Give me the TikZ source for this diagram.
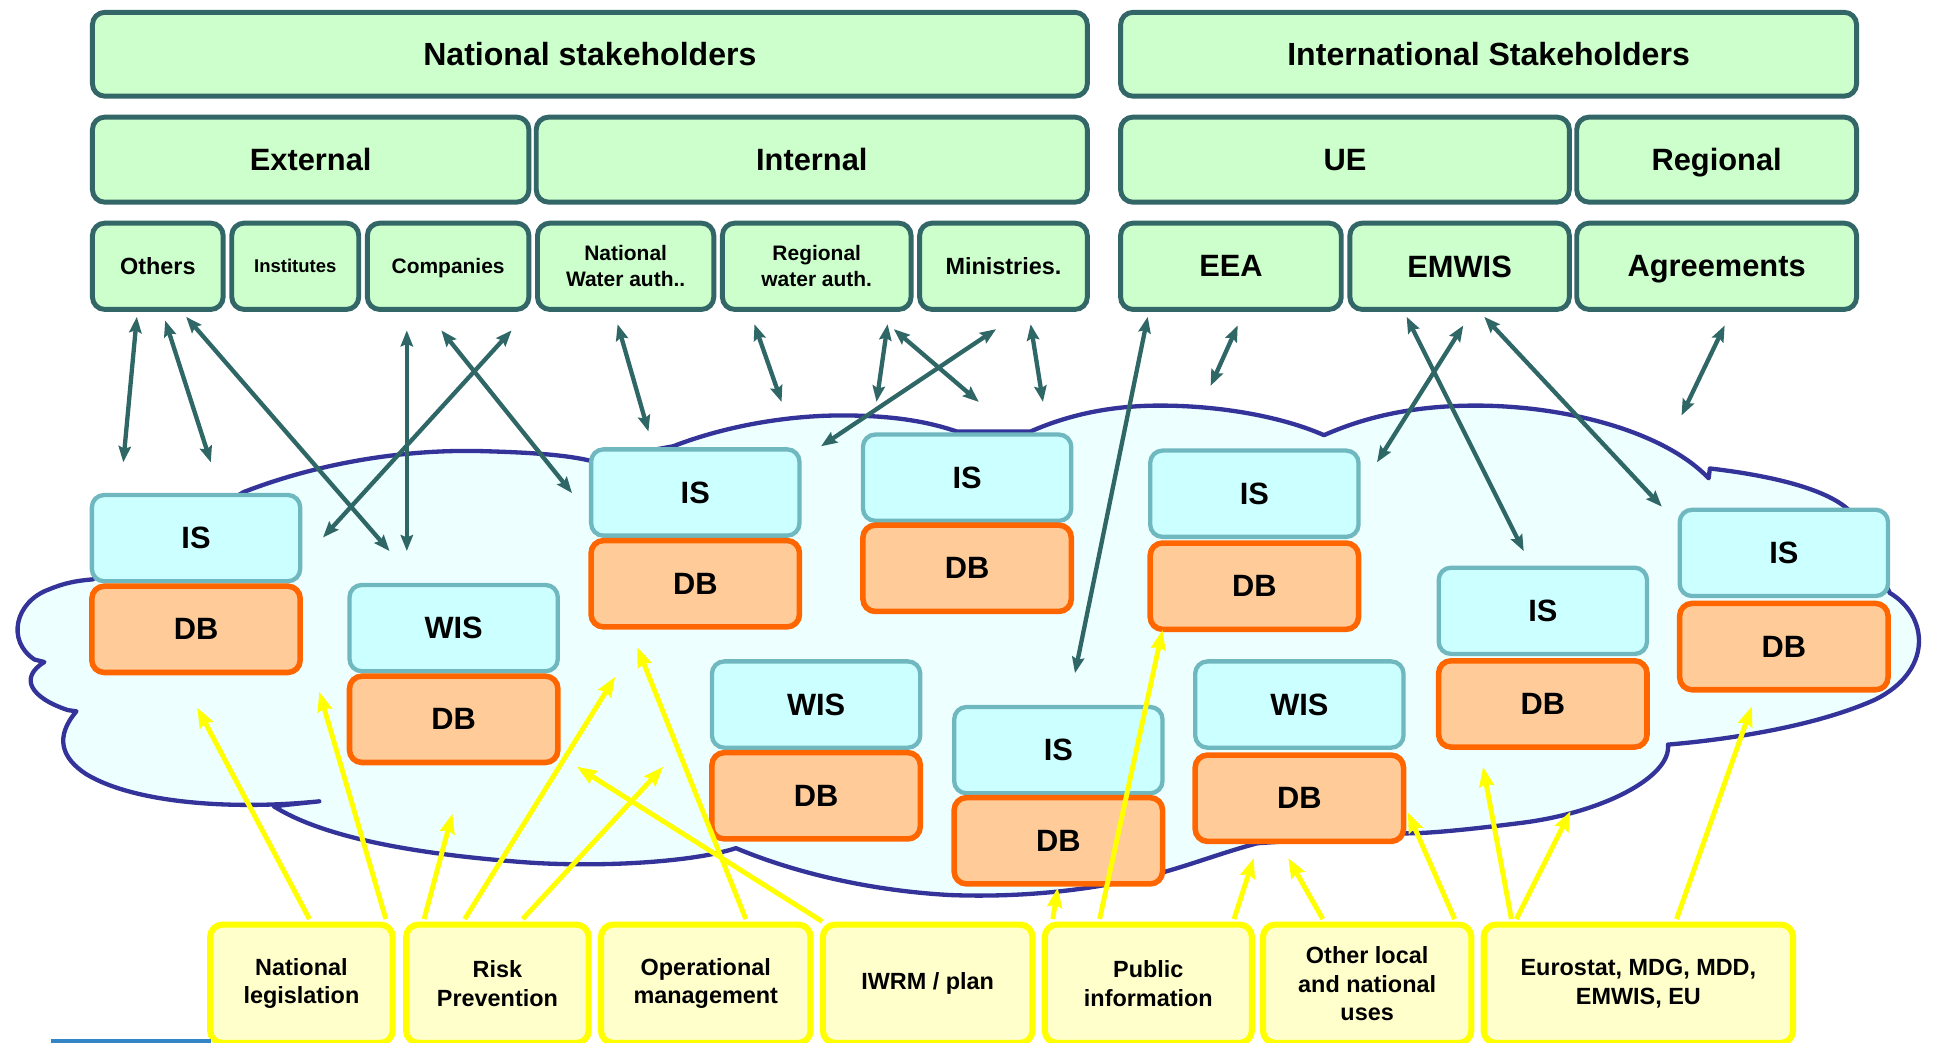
\documentclass[tikz,border=0pt]{standalone}
\usepackage{fontspec}
\setmainfont{Liberation Sans}
\usetikzlibrary{arrows.meta}

\definecolor{stakefill}{HTML}{CCFFCC}
\definecolor{stakeline}{HTML}{336666}
\definecolor{infofill}{HTML}{CCFFFF}
\definecolor{infoline}{HTML}{70B8C0}
\definecolor{dbfill}{HTML}{FFCC99}
\definecolor{dbline}{HTML}{FF6600}
\definecolor{usefill}{HTML}{FFFFCC}
\definecolor{useline}{HTML}{FFFF00}
\definecolor{cloudfill}{HTML}{EEFFFF}
\definecolor{cloudline}{HTML}{333399}
\definecolor{linkcol}{HTML}{2F6666}
\definecolor{barblue}{HTML}{3385C6}

\newcommand{\boxfont}[2]{\fontsize{#1}{#2}\selectfont\bfseries}

\begin{document}
\begin{tikzpicture}[x=1pt, y=-1pt,
        box/.style={rounded corners=10pt, inner sep=0pt, align=center},
        stake/.style={box, draw=stakeline, fill=stakefill, line width=4pt, text depth=0pt, font=\boxfont{25}{30}},
        info/.style={box, draw=infoline, fill=infofill, line width=3.5pt, minimum width=169, minimum height=70, font=\boxfont{25}{30}},
        db/.style={box, draw=dbline, fill=dbfill, line width=4.5pt, minimum width=169, minimum height=70, font=\boxfont{25}{30}},
        use/.style={box, draw=useline, fill=usefill, line width=5pt, minimum height=96, font=\boxfont{19}{23}},
        cloud/.style={fill=cloudfill, draw=cloudline, line width=3.5pt, line join=round},
        link/.style={draw=linkcol, line width=3.5pt, <->, >={Stealth[length=13pt,width=10pt,inset=2pt]}},
        feed/.style={draw=useline, line width=4pt, ->, >={Stealth[length=16pt,width=12pt,inset=2pt]}}]
        \useasboundingbox (0,0) rectangle (1568,846);
        \clip (0,0) rectangle (1568,846);

        % Cloud
        \path[cloud] (75,470) -- (198,399)
            .. controls (260,375) and (330,364) .. (393,366)
            .. controls (430,367) and (460,369) .. (480,374)
            -- (546,362)
            .. controls (590,345) and (640,337) .. (683,337)
            .. controls (720,337) and (750,341) .. (776,350)
            -- (836,350)
            .. controls (870,335) and (905,329) .. (941,329)
            .. controls (990,329) and (1040,338) .. (1074,353)
            .. controls (1110,337) and (1150,329) .. (1197,329)
            .. controls (1270,329) and (1350,350) .. (1386,388)
            -- (1387,380)
            .. controls (1430,385) and (1480,395) .. (1500,414)
            -- (1533,481)
            .. controls (1565,500) and (1568,545) .. (1520,568)
            .. controls (1470,590) and (1400,600) .. (1353,604)
            .. controls (1356,630) and (1300,660) .. (1230,668)
            .. controls (1190,673) and (1160,676) .. (1140,676)
            -- (1020,684)
            .. controls (990,692) and (965,702) .. (938,709)
            .. controls (880,724) and (820,728) .. (770,726)
            .. controls (700,722) and (640,706) .. (597,688)
            .. controls (560,700) and (480,704) .. (420,699)
            .. controls (330,692) and (260,678) .. (222,654)
            -- (259,650)
            .. controls (190,657) and (110,652) .. (70,628)
            .. controls (50,615) and (44,598) .. (62,577)
            -- (55,576)
            .. controls (25,566) and (15,550) .. (36,537)
            -- (28,535)
            .. controls (5,520) and (12,488) .. (40,478)
            .. controls (52,473) and (62,471) .. (75,470) -- cycle;

        % Information systems and databases
        \node[info] (is1) at (159,436.5) {IS};
        \node[db] (db1) at (159,510.5) {DB};
        \node[info] (wis1) at (368,509.5) {WIS};
        \node[db] (db2) at (368,583.5) {DB};
        \node[info] (is2) at (564,399.5) {IS};
        \node[db] (db3) at (564,473.5) {DB};
        \node[info] (is3) at (784.5,387.5) {IS};
        \node[db] (db4) at (784.5,461) {DB};
        \node[info] (wis2) at (662,571.5) {WIS};
        \node[db] (db5) at (662,645.5) {DB};
        \node[info] (is4) at (858.5,608.5) {IS};
        \node[db] (db6) at (858.5,682) {DB};
        \node[info] (is5) at (1017.5,400.5) {IS};
        \node[db] (db7) at (1017.5,475.5) {DB};
        \node[info] (wis3) at (1054,571.5) {WIS};
        \node[db] (db8) at (1054,647.5) {DB};
        \node[info] (is6) at (1251.5,495.5) {IS};
        \node[db] (db9) at (1251.5,571) {DB};
        \node[info] (is7) at (1447,448.5) {IS};
        \node[db] (db10) at (1447,524.5) {DB};

        % Stakeholders
        \node[stake, minimum width=807, minimum height=68, font=\boxfont{26}{30}] (nat) at (478.5,44) {National stakeholders};
        \node[stake, minimum width=597, minimum height=68, font=\boxfont{26}{30}] (intl) at (1207.5,44) {International Stakeholders};

        \node[stake, minimum width=354, minimum height=69] (ext) at (252,129.5) {External};
        \node[stake, minimum width=447, minimum height=69] (int) at (658.5,129.5) {Internal};
        \node[stake, minimum width=364, minimum height=69] (ue) at (1091,129.5) {UE};
        \node[stake, minimum width=227, minimum height=69] (reg) at (1392.5,129.5) {Regional};

        \node[stake, minimum width=106, minimum height=70, font=\boxfont{19}{22}] (oth) at (128,216) {Others};
        \node[stake, minimum width=103, minimum height=70, font=\boxfont{15}{18}] (ins) at (239.5,216) {Institutes};
        \node[stake, minimum width=131, minimum height=70, font=\boxfont{17}{21}] (com) at (363.5,216) {Companies};
        \node[stake, minimum width=143, minimum height=70, font=\boxfont{17}{21}] (nwa) at (507.5,216) {National\\Water auth..};
        \node[stake, minimum width=153, minimum height=70, font=\boxfont{17}{21}] (rwa) at (662.5,216) {Regional\\water auth.};
        \node[stake, minimum width=136, minimum height=70, font=\boxfont{19}{22}] (min) at (814,216) {Ministries.};
        \node[stake, minimum width=179, minimum height=70] (eea) at (998.5,216) {EEA};
        \node[stake, minimum width=178, minimum height=70] (emw) at (1184,216) {EMWIS};
        \node[stake, minimum width=227, minimum height=70] (agr) at (1392.5,216) {Agreements};

        % Uses
        \node[use, minimum width=148] (leg) at (244.5,798) {National\\legislation};
        \node[use, minimum width=148] (risk) at (403.5,798) {Risk\\Prevention};
        \node[use, minimum width=170] (ops) at (572.5,798) {Operational\\management};
        \node[use, minimum width=170] (iwrm) at (752.5,798) {IWRM / plan};
        \node[use, minimum width=168] (pub) at (931.5,798) {Public\\information};
        \node[use, minimum width=169] (loc) at (1109,798) {Other local\\and national\\uses};
        \node[use, minimum width=251] (euro) at (1329,798) {Eurostat, MDG, MDD,\\EMWIS, EU};

        \draw[barblue, line width=4pt] (41,845) -- (171,845);

        % Link ends in the cloud
        \coordinate (e1) at (100,375);
        \coordinate (e2) at (171,375);
        \coordinate (e3) at (316,447);
        \coordinate (e4) at (330,447);
        \coordinate (e5) at (464,400);
        \coordinate (e6) at (262,436);
        \coordinate (e7) at (526,350);
        \coordinate (e8) at (634,326);
        \coordinate (e9) at (711,326);
        \coordinate (e10) at (794,326);
        \coordinate (e11) at (666,362);
        \coordinate (e12) at (846,326);
        \coordinate (e13) at (872,546);
        \coordinate (e14) at (982,313);
        \coordinate (e15) at (1236,447);
        \coordinate (e16) at (1117,375);
        \coordinate (e17) at (1348,411);
        \coordinate (e18) at (1364,337);

        % Links
        \draw[link] ([xshift=-17,yshift=-4]oth.south) -- (e1);
        \draw[link] ([xshift=6,yshift=-7]oth.south) -- (e2);
        \draw[link] ([xshift=23,yshift=-4]oth.south) -- (e3);
        \draw[link] ([xshift=-33.5,yshift=-15]com.south) -- (e4);
        \draw[link] ([xshift=-5.5,yshift=-15]com.south) -- (e5);
        \draw[link] ([xshift=51.5,yshift=-15]com.south) -- (e6);
        \draw[link] ([xshift=-6.5,yshift=-10]nwa.south) -- (e7);
        \draw[link] ([xshift=-50.5,yshift=-10]rwa.south) -- (e8);
        \draw[link] ([xshift=57.5,yshift=-10]rwa.south) -- (e9);
        \draw[link] ([xshift=62.5,yshift=-14]rwa.south) -- (e10);
        \draw[link] ([xshift=-6,yshift=-14]min.south) -- (e11);
        \draw[link] ([xshift=22,yshift=-10]min.south) -- (e12);
        \draw[link] ([xshift=-67.5,yshift=-4]eea.south) -- (e13);
        \draw[link] ([xshift=5.5,yshift=-11]eea.south) -- (e14);
        \draw[link] ([xshift=-43,yshift=-4]emw.south) -- (e15);
        \draw[link] ([xshift=3,yshift=-11]emw.south) -- (e16);
        \draw[link] ([xshift=20,yshift=-4]emw.south) -- (e17);
        \draw[link] ([xshift=6.5,yshift=-11]agr.south) -- (e18);

        % Feed ends in the cloud
        \coordinate (f1) at (160,574);
        \coordinate (f2) at (259,561);
        \coordinate (f3) at (367,660);
        \coordinate (f4) at (499,549);
        \coordinate (f5) at (538,622);
        \coordinate (f6) at (517,525);
        \coordinate (f7) at (468,622);
        \coordinate (f8) at (858,720);
        \coordinate (f9) at (943,511);
        \coordinate (f10) at (1017,696);
        \coordinate (f11) at (1045,696);
        \coordinate (f12) at (1142,659);
        \coordinate (f13) at (1203,622);
        \coordinate (f14) at (1274,658);
        \coordinate (f15) at (1421,573);

        % Feeds
        \draw[feed] ([xshift=6.5,yshift=2]leg.north) -- (f1);
        \draw[feed] ([xshift=68.5,yshift=2]leg.north) -- (f2);
        \draw[feed] ([xshift=-59.5,yshift=2]risk.north) -- (f3);
        \draw[feed] ([xshift=-26.5,yshift=2]risk.north) -- (f4);
        \draw[feed] ([xshift=20.5,yshift=2]risk.north) -- (f5);
        \draw[feed] ([xshift=32.5,yshift=2]ops.north) -- (f6);
        \draw[feed] ([xshift=-85.5,yshift=0]iwrm.north) -- (f7);
        \draw[feed] ([xshift=-77.5,yshift=2]pub.north) -- (f8);
        \draw[feed] ([xshift=-39.5,yshift=2]pub.north) -- (f9);
        \draw[feed] ([xshift=69.5,yshift=2]pub.north) -- (f10);
        \draw[feed] ([xshift=-36,yshift=2]loc.north) -- (f11);
        \draw[feed] ([xshift=71,yshift=2]loc.north) -- (f12);
        \draw[feed] ([xshift=-103,yshift=2]euro.north) -- (f13);
        \draw[feed] ([xshift=-99,yshift=2]euro.north) -- (f14);
        \draw[feed] ([xshift=31,yshift=2]euro.north) -- (f15);
    \end{tikzpicture}
\end{document}
